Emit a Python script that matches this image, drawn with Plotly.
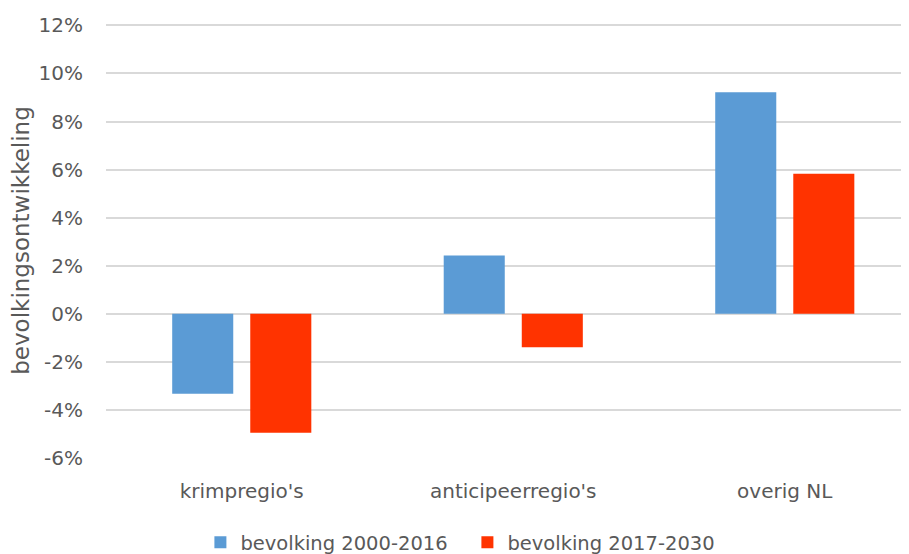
import plotly.graph_objects as go

categories = ["krimpregio's", "anticipeerregio's", "overig NL"]
bevolking_2000_2016 = [-3.33, 2.43, 9.22]
bevolking_2017_2030 = [-4.95, -1.39, 5.83]
series_names = ["bevolking 2000-2016", "bevolking 2017-2030"]
tick_vals = [-6, -4, -2, 0, 2, 4, 6, 8, 10, 12]
tick_text = ["-6%", "-4%", "-2%", "0%", "2%", "4%", "6%", "8%", "10%", "12%"]

BLUE = "#5B9BD5"
RED = "#FF3300"
GRID = "#D9D9D9"
TEXT = "#595959"

fig = go.Figure()
fig.add_trace(go.Bar(x=categories, y=bevolking_2000_2016, name=series_names[0],
                     marker=dict(color=BLUE, line=dict(width=0))))
fig.add_trace(go.Bar(x=categories, y=bevolking_2017_2030, name=series_names[1],
                     marker=dict(color=RED, line=dict(width=0))))

# page body has an 8px margin, so the figure is shifted; margins compensate
fig.update_layout(
    width=909, height=554,
    margin=dict(l=98, r=0, t=15.3, b=104.3, autoexpand=False),
    paper_bgcolor="white", plot_bgcolor="white",
    font=dict(family="DejaVu Sans", size=20, color=TEXT),
    barmode="group", bargap=0.425, bargroupgap=0.218,
    showlegend=True,
    legend=dict(orientation="h", x=0.1164, xanchor="left", yref="container", y=0, yanchor="bottom",
                font=dict(size=19.5, color=TEXT), entrywidth=222),
)
fig.update_xaxes(range=[-0.5, 2.487], showgrid=False, showline=False, ticks="", automargin=False,
                 ticklabelstandoff=19, tickfont=dict(size=20, color=TEXT))
fig.update_yaxes(range=[-6, 12.1], tickvals=tick_vals, ticktext=tick_text, automargin=False,
                 showgrid=True, gridcolor=GRID, gridwidth=1.5,
                 zeroline=True, zerolinecolor=GRID, zerolinewidth=1.5,
                 showline=False, ticks="", ticklabelstandoff=22,
                 tickfont=dict(size=20, color=TEXT),
                 title=dict(text="bevolkingsontwikkeling", font=dict(size=23, color=TEXT), standoff=14))

fig.write_html("out.html")
